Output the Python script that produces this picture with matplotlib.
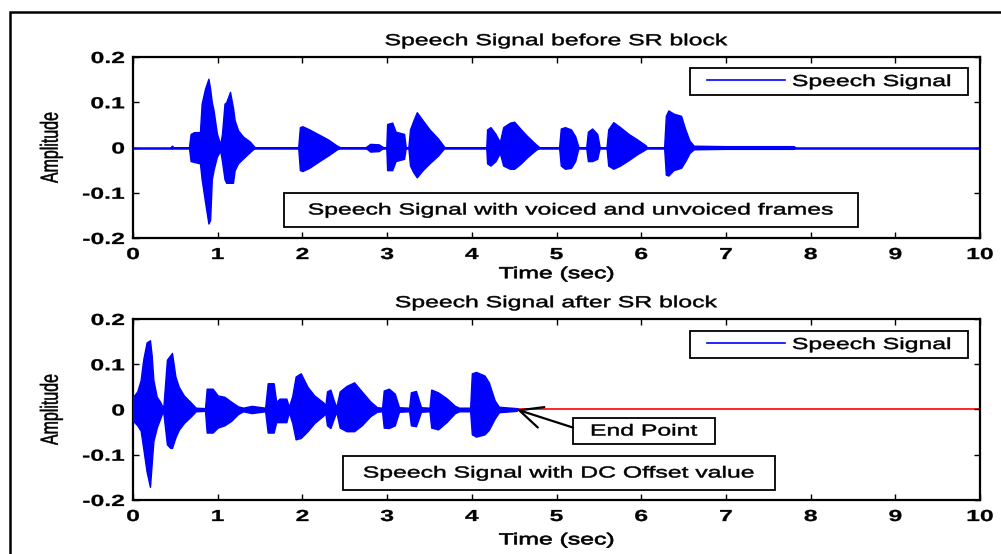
import matplotlib
matplotlib.use("Agg")
import matplotlib.pyplot as plt
from matplotlib.patches import Rectangle
from matplotlib.patheffects import AbstractPathEffect
from matplotlib.transforms import Affine2D
from matplotlib.path import Path
from matplotlib.legend_handler import HandlerLine2D

plt.rcParams["font.family"] = ["Liberation Sans", "DejaVu Sans"]

# ---------------------------------------------------------------- data
x_ticks = [0, 1, 2, 3, 4, 5, 6, 7, 8, 9, 10]
y_ticks = [-0.2, -0.1, 0.0, 0.1, 0.2]
y_tick_labels = ["-0.2", "-0.1", "0", "0.1", "0.2"]

# recording before the SR block: silence line plus burst envelopes
before_span = [0.0, 10.0]
before_time = [0.44, 0.46, 0.48,
               0.66, 0.68, 0.72, 0.79, 0.81, 0.85, 0.89, 0.91, 0.93, 0.95, 0.99,
               1.03, 1.05, 1.08, 1.10, 1.145, 1.18, 1.20, 1.24, 1.30, 1.38, 1.44,
               1.95, 1.97, 2.00, 2.08, 2.20, 2.30, 2.40, 2.45,
               2.74, 2.80, 2.90, 2.96,
               2.99, 3.00, 3.06, 3.10, 3.20, 3.22,
               3.25, 3.27, 3.31, 3.35, 3.42, 3.50, 3.60, 3.68,
               4.17, 4.18, 4.22, 4.28, 4.33, 4.37, 4.45, 4.50, 4.58, 4.65, 4.75, 4.80,
               5.03, 5.05, 5.10, 5.17, 5.22, 5.26,
               5.35, 5.37, 5.42, 5.48, 5.51,
               5.59, 5.61, 5.67, 5.75, 5.85, 5.95, 6.05, 6.07,
               6.27, 6.29, 6.32, 6.38, 6.47, 6.52, 6.57, 6.62,
               7.00, 7.40, 7.80, 7.82]
before_upper = [0.0, 0.004, 0.0,
                0.0, 0.030, 0.034, 0.034, 0.097, 0.130, 0.152, 0.130, 0.100, 0.083, 0.031,
                0.007, 0.030, 0.097, 0.100, 0.123, 0.088, 0.060, 0.038, 0.024, 0.013, 0.0,
                0.0, 0.045, 0.047, 0.040, 0.028, 0.018, 0.005, 0.0,
                0.0, 0.008, 0.007, 0.0,
                0.0, 0.052, 0.055, 0.035, 0.030, 0.0,
                0.0, 0.040, 0.060, 0.078, 0.060, 0.040, 0.020, 0.0,
                0.0, 0.040, 0.045, 0.030, 0.012, 0.045, 0.055, 0.057, 0.040, 0.026, 0.008, 0.0,
                0.0, 0.042, 0.045, 0.040, 0.025, 0.0,
                0.0, 0.035, 0.042, 0.030, 0.0,
                0.0, 0.040, 0.056, 0.045, 0.030, 0.018, 0.005, 0.0,
                0.0, 0.070, 0.082, 0.075, 0.070, 0.040, 0.015, 0.004,
                0.003, 0.003, 0.003, 0.0]
before_lower = [0.0, -0.002, 0.0,
                0.0, -0.030, -0.032, -0.035, -0.070, -0.120, -0.168, -0.160, -0.070, -0.050, -0.020,
                -0.007, -0.030, -0.070, -0.078, -0.078, -0.078, -0.050, -0.035, -0.024, -0.010, 0.0,
                0.0, -0.050, -0.052, -0.045, -0.030, -0.018, -0.005, 0.0,
                0.0, -0.009, -0.008, 0.0,
                0.0, -0.050, -0.050, -0.030, -0.025, 0.0,
                0.0, -0.040, -0.055, -0.066, -0.050, -0.035, -0.018, 0.0,
                0.0, -0.035, -0.040, -0.030, -0.012, -0.040, -0.047, -0.047, -0.035, -0.022, -0.006, 0.0,
                0.0, -0.040, -0.047, -0.045, -0.030, 0.0,
                0.0, -0.030, -0.030, -0.025, 0.0,
                0.0, -0.040, -0.047, -0.040, -0.028, -0.015, -0.004, 0.0,
                0.0, -0.060, -0.062, -0.050, -0.045, -0.030, -0.012, -0.004,
                -0.003, -0.003, -0.003, 0.0]

# recording after the SR block (silence removed, DC offset kept)
end_point_time = 4.53
offset_span = [0.0, 10.0]
offset_level = 0.0
after_time = [0.00, 0.05, 0.09, 0.12, 0.16, 0.20, 0.22, 0.24, 0.28, 0.32, 0.35,
              0.36, 0.40, 0.44, 0.46, 0.50, 0.54, 0.60, 0.68, 0.74, 0.85,
              0.87, 0.94, 1.00, 1.08, 1.16, 1.24, 1.30, 1.40, 1.48, 1.56,
              1.59, 1.66, 1.69, 1.73, 1.81, 1.84,
              1.88, 1.92, 1.98, 2.06, 2.14, 2.25, 2.27,
              2.29, 2.33, 2.37, 2.40,
              2.44, 2.52, 2.61, 2.70, 2.80, 2.88,
              2.94, 2.96, 3.02, 3.09, 3.14,
              3.26, 3.28, 3.34, 3.40,
              3.50, 3.52, 3.60, 3.70, 3.80, 3.85,
              3.98, 4.00, 4.05, 4.15, 4.20, 4.27, 4.32, 4.53]
after_upper = [0.028, 0.040, 0.065, 0.110, 0.148, 0.153, 0.120, 0.065, 0.028, 0.017, 0.005,
               0.010, 0.110, 0.120, 0.125, 0.073, 0.050, 0.031, 0.016, 0.004, 0.003,
               0.046, 0.046, 0.031, 0.028, 0.017, 0.007, 0.004, 0.008, 0.006, 0.004,
               0.058, 0.058, 0.017, 0.024, 0.024, 0.006,
               0.030, 0.073, 0.080, 0.050, 0.031, 0.015, 0.008,
               0.040, 0.044, 0.020, 0.005,
               0.040, 0.052, 0.060, 0.040, 0.018, 0.005,
               0.004, 0.042, 0.046, 0.035, 0.005,
               0.004, 0.038, 0.041, 0.005,
               0.004, 0.044, 0.038, 0.025, 0.008, 0.004,
               0.004, 0.080, 0.083, 0.075, 0.060, 0.020, 0.006, 0.003]
after_lower = [-0.025, -0.035, -0.047, -0.085, -0.137, -0.171, -0.120, -0.070, -0.040, -0.020, -0.005,
               -0.010, -0.077, -0.085, -0.085, -0.062, -0.045, -0.030, -0.016, -0.004, -0.003,
               -0.051, -0.051, -0.040, -0.035, -0.025, -0.010, -0.004, -0.008, -0.006, -0.004,
               -0.051, -0.051, -0.028, -0.028, -0.028, -0.006,
               -0.030, -0.066, -0.063, -0.048, -0.030, -0.013, -0.008,
               -0.035, -0.041, -0.020, -0.005,
               -0.040, -0.048, -0.048, -0.035, -0.015, -0.005,
               -0.004, -0.040, -0.041, -0.035, -0.005,
               -0.004, -0.035, -0.037, -0.005,
               -0.004, -0.040, -0.044, -0.028, -0.008, -0.004,
               -0.004, -0.055, -0.060, -0.055, -0.045, -0.020, -0.006, -0.003]

BLUE = "#0000ff"
RED = "#ff0000"
FS = 11.5
WIDEN = 1.55


class WideText(AbstractPathEffect):
    """Draw glyphs widened horizontally about a chosen anchor, with a thin outline."""

    def __init__(self, sx=WIDEN, anchor="center", stroke=0.35):
        super().__init__()
        self._sx = sx
        self._anchor = anchor
        self._stroke = stroke

    def draw_path(self, renderer, gc, tpath, affine, rgbFace=None):
        verts = affine.transform(tpath.vertices)
        if tpath.codes is not None:
            verts = verts[tpath.codes != Path.CLOSEPOLY]
        if len(verts) == 0:
            return
        xs = verts[:, 0]
        if self._anchor == "left":
            ref = xs.min()
        elif self._anchor == "right":
            ref = xs.max()
        else:
            ref = 0.5 * (xs.min() + xs.max())
        widen = Affine2D().translate(-ref, 0).scale(self._sx, 1).translate(ref, 0)
        gc0 = renderer.new_gc()
        gc0.copy_properties(gc)
        if rgbFace is not None:
            gc0.set_foreground(rgbFace)
        gc0.set_linewidth(self._stroke)
        renderer.draw_path(gc0, tpath, affine + widen, rgbFace)
        gc0.restore()


def style_axes(ax, title, xlabel_pad):
    ax.set_xlim(0, 10)
    ax.set_ylim(-0.2, 0.2)
    ax.set_xticks(x_ticks)
    ax.set_xticklabels([str(v) for v in x_ticks])
    ax.set_yticks(y_ticks)
    ax.set_yticklabels(y_tick_labels)
    ax.tick_params(direction="in", top=True, right=True, length=4, width=1.0,
                   labelsize=FS)
    ax.tick_params(axis="x", pad=6.5)
    ax.tick_params(axis="y", pad=6)
    for lab in ax.get_xticklabels():
        lab.set_fontweight("bold")
        lab.set_path_effects([WideText(anchor="center", stroke=0.2)])
    for lab in ax.get_yticklabels():
        lab.set_fontweight("bold")
        lab.set_path_effects([WideText(anchor="right", stroke=0.2)])
    for sp in ax.spines.values():
        sp.set_linewidth(1.6)
    t = ax.set_title(title, fontsize=FS, pad=8.5)
    t.set_path_effects([WideText(anchor="center")])
    xl = ax.set_xlabel("Time (sec)", fontsize=FS, labelpad=xlabel_pad)
    xl.set_path_effects([WideText(anchor="center", stroke=0.5)])
    yl = ax.set_ylabel("Amplitude", fontsize=FS)
    ax.yaxis.set_label_coords(-0.088, 0.5)
    yl.set_path_effects([WideText(anchor="center")])


def add_legend(ax, handle, y0, h):
    leg = ax.legend([handle], ["Speech Signal"], loc="center",
                    bbox_to_anchor=(0.6576, y0, 0.3282, h), mode="expand",
                    borderaxespad=0.0, borderpad=0.4, fontsize=FS,
                    fancybox=False, framealpha=1.0, edgecolor="black",
                    handlelength=6.2, handletextpad=-0.2,
                    handler_map={handle: HandlerLine2D(numpoints=2, marker_pad=0.66)})
    leg.get_frame().set_linewidth(1.3)
    for txt in leg.get_texts():
        txt.set_path_effects([WideText(anchor="left")])
    for ln in leg.get_lines():
        ln.set_linewidth(1.2)
    return leg


def boxed_note(ax, text, x0, x1, y0, y1):
    ax.add_patch(Rectangle((x0, y0), x1 - x0, y1 - y0, transform=ax.transAxes,
                           facecolor="white", edgecolor="black", lw=1.3, zorder=4))
    note = ax.text((x0 + x1) / 2, (y0 + y1) / 2, text, transform=ax.transAxes,
                   ha="center", va="center", fontsize=FS, zorder=5)
    note.set_path_effects([WideText(anchor="center")])


fig = plt.figure(figsize=(10.01, 5.54), dpi=100)

# outer frame
fig.add_artist(Rectangle((10 / 1001, -0.05), 1.2, 1.05 - 12 / 554,
                         transform=fig.transFigure, fill=False,
                         edgecolor="black", lw=1.8, clip_on=False))

# ---------------------------------------------------------------- top panel
ax1 = fig.add_axes([0.1329, 0.5704, 0.8462, 0.3267])
line1, = ax1.plot(before_span, [0, 0], color=BLUE, lw=1.8, zorder=2)
ax1.fill_between(before_time, before_lower, before_upper, color=BLUE,
                 lw=1.0, zorder=3)
style_axes(ax1, "Speech Signal before SR block", 3.0)
add_legend(ax1, line1, 0.779, 0.171)
boxed_note(ax1, "Speech Signal with voiced and unvoiced frames",
           0.1783, 0.856, 0.0608, 0.2486)

# ---------------------------------------------------------------- bottom panel
ax2 = fig.add_axes([0.1329, 0.0975, 0.8462, 0.3267])
ax2.plot(offset_span, [offset_level, offset_level], color=RED, lw=1.2, zorder=1)
line2, = ax2.plot([0.0, end_point_time], [0, 0], color=BLUE, lw=1.8, zorder=2)
ax2.fill_between(after_time, after_lower, after_upper, color=BLUE,
                 lw=1.0, zorder=3)
style_axes(ax2, "Speech Signal after SR block", 6.0)
add_legend(ax2, line2, 0.773, 0.172)
boxed_note(ax2, "Speech Signal with DC Offset value", 0.248, 0.758, 0.055, 0.243)
boxed_note(ax2, "End Point", 0.5195, 0.687, 0.309, 0.453)
ax2.annotate("", xy=(end_point_time, offset_level), xycoords="data",
             xytext=(0.5195, 0.40), textcoords="axes fraction",
             arrowprops=dict(arrowstyle="->,head_length=0.75,head_width=0.35",
                             color="black", lw=1.6,
                             mutation_scale=22, shrinkA=0, shrinkB=0),
             zorder=6)

fig.savefig("out.png", dpi=100, facecolor="white")
